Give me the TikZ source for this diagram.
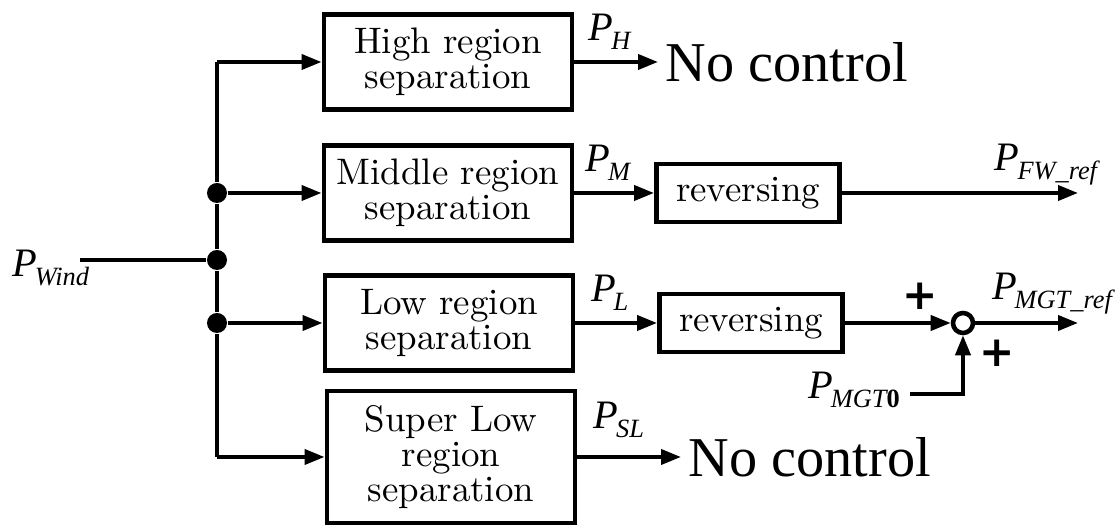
\documentclass[tikz,border=0pt]{standalone}
\usepackage{fontspec}
\usepackage{amsmath}
\usepackage{tikz}
\usetikzlibrary{arrows.meta, positioning, calc}
\newfontfamily\timesfont{LiberationSerif}[Extension=.ttf,
  UprightFont=*-Regular, ItalicFont=*-Italic, BoldFont=*-Bold,
  BoldItalicFont=*-BoldItalic]
\newfontfamily\plusfont{DejaVu Sans}
\newcommand{\psig}[1]{{\timesfont\itshape\fontsize{11.5}{13}\selectfont
  P\kern-0.6pt\raisebox{-2.6pt}{\fontsize{7.5}{8}\selectfont #1}}}
\tikzset{
  block/.style={rectangle, draw=black, line width=1.4pt, align=center,
    minimum width=24.8mm, minimum height=9.5mm, inner sep=1pt,
    font=\fontsize{10.5}{10}\selectfont},
  revblock/.style={block, minimum width=18.3mm, minimum height=5.8mm},
  sumnode/.style={circle, draw=black, line width=1.3pt, minimum size=2mm, inner sep=0pt},
  dotnode/.style={circle, fill=black, minimum size=2mm, inner sep=0pt},
  arrow/.style={-{Triangle[length=2mm,width=1.5mm]}, line width=1.1pt, color=black},
  line/.style={line width=1.1pt, color=black},
  sig/.style={inner sep=1pt},
  plus/.style={font=\plusfont\bfseries\fontsize{12}{12}\selectfont, inner sep=0pt},
  noctrl/.style={font=\timesfont\fontsize{16}{19}\selectfont, inner sep=2pt}
}

\begin{document}
\begin{tikzpicture}[x=0.1mm, y=-0.1mm]
\useasboundingbox (0,0) rectangle (1115,526);
% separation blocks
\node[block] (high) at (448,62) {High region\\separation};
\node[block] (mid) at (448,193) {Middle region\\separation};
\node[block] (low) at (449,323) {Low region\\separation};
\node[block, minimum height=13.2mm] (slow) at (451,457) {Super Low\\region\\separation};
% input bus
\node[sig, anchor=west] (pw) at (8,268) {\psig{Wind}};
\coordinate (win) at (80,260);
\coordinate (bh) at (217,62);
\coordinate (bs) at (217,457);
\node[dotnode] (dm) at (217,193) {};
\node[dotnode] (dw) at (217,260) {};
\node[dotnode] (dl) at (217,323) {};
\draw[line] (win) -- (dw);
\draw[line] (bh) -- (dm) -- (dw) -- (dl) -- (bs);
\draw[arrow] (bh) -- (high);
\draw[arrow] (dm) -- (mid);
\draw[arrow] (dl) -- (low);
\draw[arrow] (bs) -- (slow);
% high and super low: no control
\node[noctrl, anchor=west] (nch) at (658,62) {No control};
\node[noctrl, anchor=west] (ncs) at (681,457) {No control};
\draw[arrow] (high) -- node[sig, above=2pt, pos=0.42]{\psig{H}} (nch);
\draw[arrow] (slow) -- node[sig, above=4pt, pos=0.4]{\psig{SL}} (ncs);
% middle: flywheel reference
\node[revblock] (revm) at (748,193) {reversing};
\coordinate (fwout) at (1078,193);
\draw[arrow] (mid) -- node[sig, above=2pt, pos=0.42]{\psig{M}} (revm);
\draw[arrow] (revm) -- (fwout);
\node[sig] (pfw) at (1046,165) {\psig{FW\_ref}};
% low: micro gas turbine reference
\node[revblock] (revl) at (751,323) {reversing};
\node[sumnode] (sum) at (963,323) {};
\coordinate (mgtout) at (1078,323);
\draw[arrow] (low) -- node[sig, above=2pt, pos=0.42]{\psig{L}} (revl);
\draw[arrow] (revl) -- (sum);
\draw[arrow] (sum) -- (mgtout);
\node[sig] (pmgt) at (1052,294) {\psig{MGT\_ref}};
\node[plus] (pa) at (920,296) {+};
\node[plus] (pb) at (997,353) {+};
\node[sig, anchor=east] (pmgt0) at (904,390) {\psig{MGT\textbf{\upshape 0}}};
\coordinate (m0) at (910,394);
\draw[arrow] (m0) -| (sum);
\end{tikzpicture}
\end{document}
